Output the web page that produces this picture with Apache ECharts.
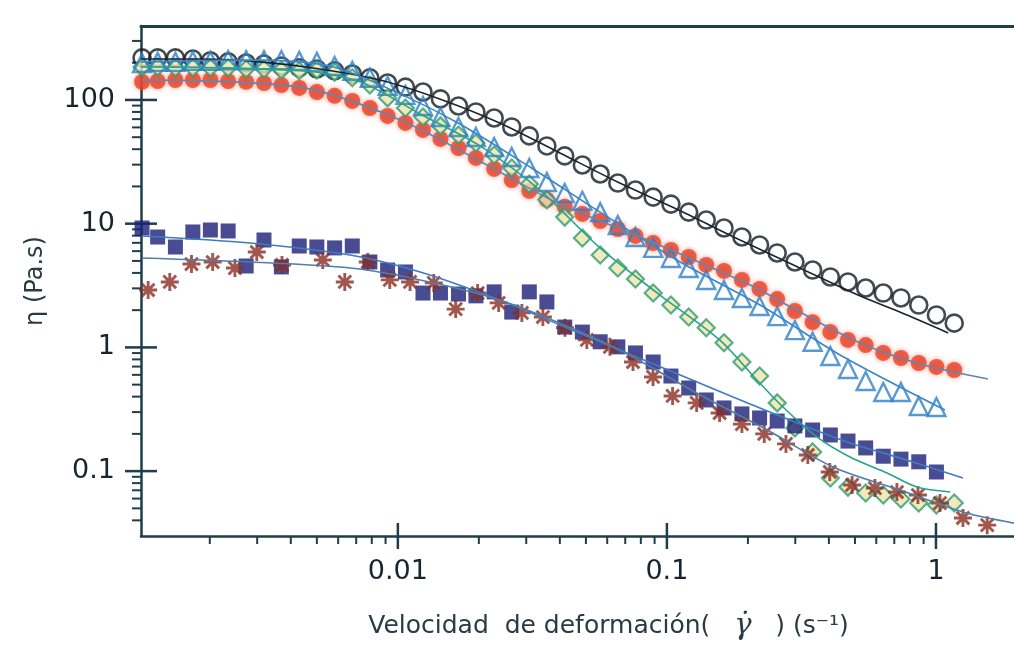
<!DOCTYPE html>
<html>
<head>
<meta charset="utf-8">
<script src="https://cdn.jsdelivr.net/npm/echarts@6/dist/echarts.min.js"></script>
<style>
html,body{margin:0;padding:0;background:#ffffff;}
#chart{width:1014px;height:648px;}
</style>
</head>
<body>
<div id="chart"></div>
<script>
// ---- data ----
const shearRate = [0.00112, 0.00128, 0.00149, 0.00173, 0.00201, 0.00234, 0.00273, 0.00318, 0.00369, 0.00430,
  0.00500, 0.00582, 0.00677, 0.00787, 0.00916, 0.01067, 0.0124, 0.0144, 0.0168, 0.0195,
  0.0228, 0.0265, 0.0308, 0.0358, 0.0417, 0.0485, 0.0565, 0.0657, 0.0764, 0.0889,
  0.1035, 0.1205, 0.140, 0.163, 0.190, 0.221, 0.257, 0.299, 0.348, 0.405,
  0.471, 0.548, 0.637, 0.741, 0.863, 1.004, 1.169];

const openCircles = [219, 219, 219, 214, 207, 203, 199, 195, 188, 182, 178, 172, 162, 151, 137, 127, 116, 102, 89.4, 80.0,
  71.5, 60.5, 51.2, 42.5, 35.3, 29.8, 25.2, 21.3, 18.7, 16.4, 14.4, 12.4, 10.7, 9.23, 7.80, 6.73, 5.80, 4.90, 4.22, 3.71,
  3.38, 3.02, 2.75, 2.51, 2.20, 1.83, 1.57];

const triangles = [199, 203, 203, 207, 207, 210, 210, 210, 210, 207, 203, 188, 172, 151, 130, 110, 89.4, 72.9, 60.5, 50.2,
  41.7, 34.6, 28.2, 21.7, 17.7, 15.3, 12.4, 9.75, 7.80, 6.37, 5.28, 4.38, 3.51, 2.91, 2.51, 2.16, 1.79, 1.38, 1.11, 0.853,
  0.669, 0.535, 0.436, 0.436, 0.336, 0.330];

const diamonds = [185, 185, 182, 182, 182, 182, 178, 178, 175, 172, 175, 168, 151, 132, 104, 86.1, 72.9, 61.7, 52.1, 44.9,
  35.9, 28.2, 20.9, 15.6, 11.3, 7.66, 5.58, 4.38, 3.57, 2.75, 2.20, 1.76, 1.44, 1.09, 0.762, 0.587, 0.356, 0.223, 0.143, 0.0879,
  0.0743, 0.0665, 0.0641, 0.0595, 0.0552, 0.0532, 0.0552];

const filledCircles = [140, 142, 145, 145, 145, 142, 140, 137, 132, 125, 116, 108, 98.2, 86.1, 74.3, 65.2, 57.2, 48.4, 40.9, 34.0,
  27.7, 22.5, 18.4, 15.6, 13.7, 12.0, 10.5, 9.06, 7.96, 6.98, 6.13, 5.38, 4.64, 4.15, 3.51, 2.97, 2.46, 1.97, 1.60, 1.33,
  1.15, 1.045, 0.902, 0.821, 0.748, 0.695, 0.657];

const squares = [9.23, 7.80, 6.48, 8.57, 8.89, 8.73, 4.55, 7.38, 4.47, 6.60, 6.48, 6.37, 6.60, 4.90, 4.22, 4.07, 2.75, 2.75, 2.70, 2.61,
  2.81, 1.93, 2.81, 2.33, 1.46, 1.33, 1.11, 1.01, 0.902, 0.762, 0.587, 0.470, 0.376, 0.324, 0.290, 0.269, 0.254, 0.232, 0.215, 0.196,
  0.175, 0.154, 0.132, 0.125, 0.119, 0.0984];

const asteriskRate = [0.00118, 0.00142, 0.00171, 0.00205, 0.00248, 0.00299, 0.00371, 0.00526, 0.00635, 0.00773,
  0.00933, 0.0111, 0.0136, 0.0164, 0.0198, 0.0237, 0.0289, 0.0346, 0.0418, 0.0504,
  0.0614, 0.0748, 0.0888, 0.105, 0.129, 0.157, 0.190, 0.230, 0.277, 0.334,
  0.403, 0.488, 0.593, 0.716, 0.857, 1.035, 1.26, 1.55];
const asterisks = [2.91, 3.38, 4.72, 4.90, 4.38, 5.90, 4.64, 5.09, 3.38, 4.90,
  3.51, 3.38, 3.32, 2.04, 2.75, 2.29, 1.90, 1.76, 1.44, 1.15,
  1.01, 0.762, 0.577, 0.405, 0.356, 0.295, 0.240, 0.200, 0.166, 0.135,
  0.0984, 0.0773, 0.0730, 0.0678, 0.0641, 0.0552, 0.0418, 0.0366];

// fitted model curves
const fitOpenCircles = [[0.00111,214],[0.00184,214],[0.00307,203],[0.00513,178],[0.00857,145],[0.0143,102],[0.0239,65.2],
  [0.0400,37.3],[0.0668,21.3],[0.112,12.7],[0.187,7.38],[0.312,4.38],[0.521,2.61],[0.734,1.93],[1.11,1.31]];
const fitTriangles = [[0.00111,203],[0.00282,210],[0.00558,188],[0.0102,112],[0.0170,64.0],[0.0310,28.7],[0.0564,12.4],
  [0.112,4.90],[0.222,2.20],[0.440,0.869],[1.08,0.312]];
const fitDiamonds = [[0.00111,185],[0.00433,172],[0.00722,140],[0.0121,77.1],[0.0202,42.5],[0.0337,18.7],[0.0564,6.37],
  [0.0942,2.65],[0.157,1.15],[0.216,0.545],[0.270,0.330],[0.361,0.189],[0.479,0.130],[0.658,0.0966],[0.850,0.0743],[1.13,0.0678]];
const fitFilledCircles = [[0.00111,145],[0.00433,127],[0.0102,68.9],[0.0239,26.2],[0.0400,14.4],[0.0865,7.24],[0.204,3.19],
  [0.312,1.93],[0.521,1.09],[0.873,0.734],[1.56,0.556]];
const fitSquares = [[0.00112,7.96],[0.00282,6.98],[0.00664,5.58],[0.0121,4.07],[0.0239,2.42],[0.0400,1.52],[0.0668,0.953],
  [0.112,0.598],[0.176,0.397],[0.286,0.259],[0.479,0.169],[0.734,0.128],[1.26,0.0879]];
const fitAsterisks = [[0.00112,5.28],[0.00282,4.90],[0.00664,4.38],[0.0121,3.51],[0.0239,2.42],[0.0400,1.57],[0.0668,0.953],
  [0.133,0.412],[0.236,0.215],[0.414,0.108],[0.734,0.0703],[1.30,0.0458],[1.95,0.0380]];

// axis ticks and labels
const xTickValues = [0.01, 0.1, 1];
const xTickLabels = ['0.01', '0.1', '1'];
const yTickValues = [0.1, 1, 10, 100];
const yTickLabels = ['0.1', '1', '10', '100'];
const xMinorTicks = [0.002,0.003,0.004,0.005,0.006,0.007,0.008,0.009,
  0.02,0.03,0.04,0.05,0.06,0.07,0.08,0.09, 0.2,0.3,0.4,0.5,0.6,0.7,0.8,0.9];
const yMinorTicks = [0.04,0.05,0.06,0.07,0.08,0.09, 0.2,0.3,0.4,0.5,0.6,0.7,0.8,0.9,
  2,3,4,5,6,7,8,9, 20,30,40,50,60,70,80,90, 200,300];

const X_MIN = 0.00111, X_MAX = 1.95, Y_MIN = 0.0299, Y_MAX = 396;
const AXIS_COLOR = '#1f3e4b';
const TEXT_COLOR = '#17252e';

function zip(xs, ys) { return ys.map((y, i) => [xs[i], y]); }
function labelFor(values, labels) {
  return function (v) {
    const i = values.findIndex(t => Math.abs(Math.log10(v / t)) < 1e-6);
    return i >= 0 ? labels[i] : '';
  };
}
function tickSeries(vals, axis, outLen, inLen, width) {
  return {
    type: 'custom', coordinateSystem: 'cartesian2d', silent: true, clip: false, z: 1,
    data: vals.map(v => axis === 'x' ? [v, Y_MIN] : [X_MIN, v]),
    renderItem: function (params, api) {
      const p = api.coord([api.value(0), api.value(1)]);
      const shape = axis === 'x'
        ? { x1: p[0], y1: p[1] - inLen, x2: p[0], y2: p[1] + outLen }
        : { x1: p[0] - outLen, y1: p[1], x2: p[0] + inLen, y2: p[1] };
      return { type: 'line', shape: shape, style: { stroke: AXIS_COLOR, lineWidth: width } };
    }
  };
}

const asteriskPath = 'path://M-1.6,-10L1.6,-10L1.6,10L-1.6,10Z M-10,-1.6L10,-1.6L10,1.6L-10,1.6Z ' +
  'M-5.94,-8.2L8.2,5.94L5.94,8.2L-8.2,-5.94Z M8.2,-5.94L-5.94,8.2L-8.2,5.94L5.94,-8.2Z';

function fitLine(data, color, z) {
  return { type: 'line', data: data, showSymbol: false, smooth: 0.3, silent: true, z: z,
    lineStyle: { color: color, width: 1.6 } };
}

const chart = echarts.init(document.getElementById('chart'), null, { renderer: 'canvas' });
chart.setOption({
  animation: false,
  backgroundColor: '#ffffff',
  grid: { left: 141, right: 0, top: 26, bottom: 112, containLabel: false, outerBoundsMode: 'none' },
  xAxis: [
    {
      type: 'log', min: X_MIN, max: X_MAX, position: 'bottom',
      axisLine: { show: true, lineStyle: { color: AXIS_COLOR, width: 2.5 } },
      axisTick: { show: false }, splitLine: { show: false }, minorTick: { show: false },
      axisLabel: { show: true, interval: 0, margin: 22, color: TEXT_COLOR, fontSize: 27,
        fontFamily: 'DejaVu Sans', formatter: labelFor(xTickValues, xTickLabels) },
      name: 'Velocidad  de deformación(   {g|γ̇}   ) (s⁻¹)',
      nameLocation: 'middle', nameGap: 76,
      nameTextStyle: { color: '#2a3b44', fontSize: 25, fontFamily: 'DejaVu Sans', padding: [0, 0, 0, 62],
        rich: { g: { fontSize: 29, fontStyle: 'italic', fontFamily: 'DejaVu Serif', color: '#2a3b44' } } }
    },
    {
      type: 'log', min: X_MIN, max: X_MAX, position: 'top',
      axisLine: { show: true, lineStyle: { color: AXIS_COLOR, width: 3 } },
      axisTick: { show: false }, axisLabel: { show: false }, splitLine: { show: false }
    }
  ],
  yAxis: [
    {
      type: 'log', min: Y_MIN, max: Y_MAX,
      axisLine: { show: true, lineStyle: { color: AXIS_COLOR, width: 2.5 } },
      axisTick: { show: false }, splitLine: { show: false }, minorTick: { show: false },
      axisLabel: { show: true, interval: 0, margin: 26, color: TEXT_COLOR, fontSize: 27,
        fontFamily: 'DejaVu Sans', formatter: labelFor(yTickValues, yTickLabels) },
      name: 'η (Pa.s)', nameLocation: 'middle', nameGap: 93, nameRotate: 90,
      nameTextStyle: { color: '#2a3b44', fontSize: 24, fontFamily: 'DejaVu Sans' }
    }
  ],
  series: [
    tickSeries(xTickValues, 'x', 13, 13, 2.5),
    tickSeries(xMinorTicks, 'x', 8, 0, 2),
    tickSeries(yTickValues, 'y', 16, 16, 2.5),
    tickSeries(yMinorTicks, 'y', 9, 0, 2),
    {
      type: 'scatter', name: 'filled circles', data: zip(shearRate, filledCircles), clip: false, z: 2,
      symbol: 'circle', symbolSize: 16,
      itemStyle: { color: '#e8432b', shadowBlur: 5, shadowColor: 'rgba(235,80,50,0.7)' }
    },
    {
      type: 'scatter', name: 'open circles', data: zip(shearRate, openCircles), clip: false, z: 3,
      symbol: 'circle', symbolSize: 17,
      itemStyle: { color: 'rgba(255,255,255,0)', borderColor: '#111d24', borderWidth: 2.6 }
    },
    {
      type: 'scatter', name: 'diamonds', data: zip(shearRate, diamonds), clip: false, z: 4,
      symbol: 'diamond', symbolSize: 17,
      itemStyle: { color: '#efe3ab', borderColor: '#2f9c72', borderWidth: 2.2 }
    },
    {
      type: 'scatter', name: 'triangles', data: zip(shearRate, triangles), clip: false, z: 5,
      symbol: 'triangle', symbolSize: 18,
      itemStyle: { color: 'rgba(255,255,255,0)', borderColor: '#2f80c6', borderWidth: 2.4 }
    },
    {
      type: 'scatter', name: 'squares', data: zip(shearRate, squares), clip: false, z: 6,
      symbol: 'rect', symbolSize: 15,
      itemStyle: { color: '#1c1f77' }
    },
    {
      type: 'scatter', name: 'asterisks', data: zip(asteriskRate, asterisks), clip: false, z: 7,
      symbol: asteriskPath, symbolSize: 18,
      itemStyle: { color: '#8a2c22' }
    },
    fitLine(fitOpenCircles, '#1a252b', 8),
    fitLine(fitTriangles, '#3a86c8', 8),
    fitLine(fitDiamonds, '#2aa38c', 8),
    fitLine(fitFilledCircles, '#5f88b0', 8),
    fitLine(fitSquares, '#3d7cc2', 8),
    fitLine(fitAsterisks, '#4f7ea8', 8)
  ]
});
</script>
</body>
</html>
